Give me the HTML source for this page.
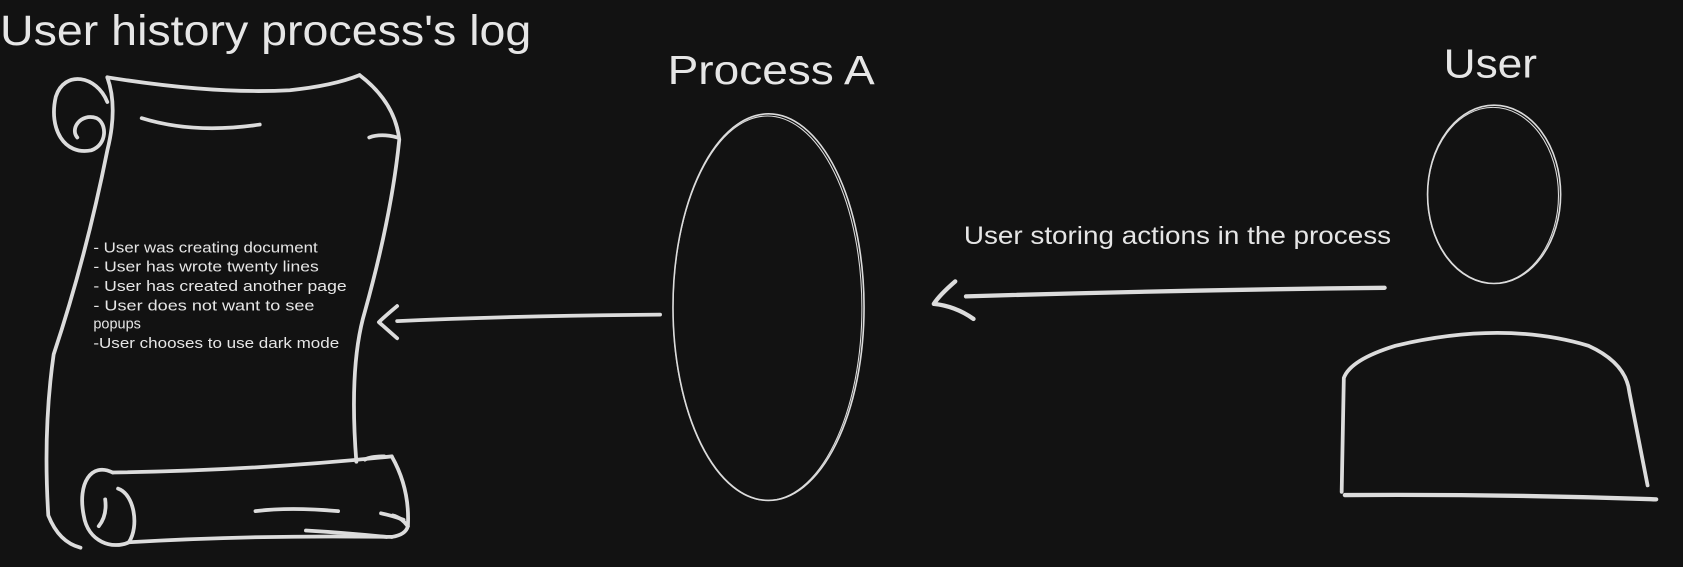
<!DOCTYPE html>
<html><head><meta charset="utf-8"><style>
html,body{margin:0;padding:0;background:#121212;}
svg{display:block}
text{font-family:"Liberation Sans",sans-serif;fill:#e6e6e6}
</style></head><body>
<svg width="1683" height="567" viewBox="0 0 1568 528" preserveAspectRatio="none">
<rect width="1568" height="528" fill="#121212"/>
<g fill="none" stroke="#dcdcdc" stroke-linecap="round" stroke-linejoin="round">
<g stroke-width="3.5">
<path d="M100,72 Q200,88 270,84 Q310,80 335,70"/>
<path d="M335,70 Q368,95 372,130 Q365,200 340,290 Q325,340 332,430"/>
<path d="M100,72 Q110,100 100,140 Q80,240 50,330 Q40,400 45,480 Q55,505 75,510"/>
<path d="M100,95 C90,70 60,65 52,90 C45,120 60,145 85,140 C100,135 100,115 90,110 C75,105 65,120 72,128"/>
<path d="M132,110 Q180,125 242,116"/>
<path d="M344,128 Q355,124 370,128"/>
<path d="M105,440 Q240,438 365,425"/>
<path d="M365,425 Q382,455 380,490 Q378,498 365,500"/>
<path d="M120,505 Q240,498 365,500"/>
<path d="M105,440 C85,430 72,450 78,480 C82,505 105,512 120,505 C130,490 125,460 110,455"/>
<path d="M98,465 Q100,480 92,490"/>
<path d="M238,476 Q270,472 315,476"/>
<path d="M285,494 Q320,496 360,500"/>
<path d="M355,478 Q365,480 376,484"/>
<path d="M340,428 Q345,425 358,425"/>
<path d="M366,480 Q374,482 380,490"/>
</g>
<ellipse cx="716" cy="286" rx="89" ry="180" stroke-width="1.5"/>
<ellipse cx="715" cy="287" rx="88" ry="179" stroke-width="1"/>
<ellipse cx="1392" cy="181" rx="62" ry="83" stroke-width="1.5"/>
<ellipse cx="1391" cy="182" rx="61" ry="82" stroke-width="1"/>
<path d="M1250,458 L1252,352 Q1258,335 1300,322 Q1400,298 1480,322 Q1515,338 1518,365 L1535,452" stroke-width="3.5"/>
<path d="M1253,461 Q1400,460 1543,465" stroke-width="4"/>
<path d="M1290,268 Q1100,270 900,276" stroke-width="4"/>
<path d="M890,262 Q875,275 870,283 Q890,285 907,297" stroke-width="4"/>
<path d="M615,293 Q480,294 370,299" stroke-width="3.5"/>
<path d="M370,285 Q358,295 353,300 Q362,308 370,315" stroke-width="3.5"/>
</g>
<text x="0" y="42" font-size="40" textLength="495" lengthAdjust="spacingAndGlyphs">User history process's log</text>
<text x="622" y="78" font-size="38" textLength="193" lengthAdjust="spacingAndGlyphs">Process A</text>
<text x="1345" y="72" font-size="38" textLength="87" lengthAdjust="spacingAndGlyphs">User</text>
<text x="898" y="227" font-size="23" textLength="398" lengthAdjust="spacingAndGlyphs">User storing actions in the process</text>
<g font-size="13.5">
<text x="87" y="235" textLength="209" lengthAdjust="spacingAndGlyphs">- User was creating document</text>
<text x="87" y="253" textLength="210" lengthAdjust="spacingAndGlyphs">- User has wrote twenty lines</text>
<text x="87" y="271" textLength="236" lengthAdjust="spacingAndGlyphs">- User has created another page</text>
<text x="87" y="289" textLength="206" lengthAdjust="spacingAndGlyphs">- User does not want to see</text>
<text x="87" y="306">popups</text>
<text x="87" y="324" textLength="229" lengthAdjust="spacingAndGlyphs">-User chooses to use dark mode</text>
</g>
</svg>
</body></html>
